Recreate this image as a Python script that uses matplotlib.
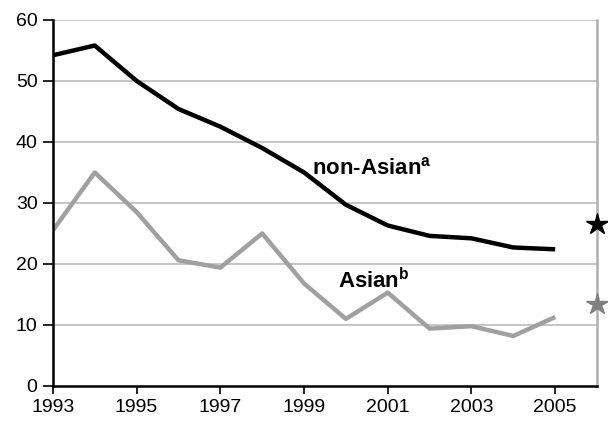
import matplotlib
matplotlib.use('Agg')
import matplotlib.pyplot as plt

plt.rcParams['font.family'] = ['Liberation Sans', 'DejaVu Sans']
plt.rcParams['mathtext.fontset'] = 'custom'
plt.rcParams['mathtext.bf'] = 'Liberation Sans:bold'
plt.rcParams['mathtext.rm'] = 'Liberation Sans'

years = list(range(1993, 2006))
non_asian = [54.2, 55.8, 50.0, 45.4, 42.5, 39.0, 35.0, 29.7, 26.3, 24.6, 24.2, 22.7, 22.4]
asian = [25.5, 35.0, 28.5, 20.6, 19.4, 25.0, 16.8, 11.0, 15.3, 9.4, 9.8, 8.2, 11.3]
star_year = 2006
star_non_asian = 26.5
star_asian = 13.5

fig = plt.figure(figsize=(6.08, 4.23), dpi=100)
ax = fig.add_axes([0.087, 0.0875, 0.895, 0.8655])

for v in range(10, 61, 10):
    ax.axhline(v, color='#c0c0c0', lw=1.3, zorder=0)

ax.plot(years, non_asian, color='black', lw=3.2, solid_capstyle='butt', zorder=3)
ax.plot(years, asian, color='#a0a0a0', lw=3.2, solid_capstyle='butt', zorder=2)

ax.plot([star_year], [star_non_asian], marker='*', color='black', ms=16, clip_on=False, zorder=4)
ax.plot([star_year], [star_asian], marker='*', color='#808080', ms=16, clip_on=False, zorder=4)

ax.text(1999.19, 34.6, r'non-Asian$^{\mathbf{a}}$', fontsize=16, fontweight='bold')
ax.text(1999.82, 16.1, r'Asian$^{\mathbf{b}}$', fontsize=16, fontweight='bold')

ax.set_xlim(1993, 2006)
ax.set_ylim(0, 60)
ax.set_xticks(range(1993, 2006, 2))
ax.set_yticks(range(0, 61, 10))
ax.tick_params(axis='both', labelsize=14, length=6, width=1.2, direction='out')
ax.tick_params(axis='y', length=7, pad=4)

ax.spines['top'].set_visible(False)
ax.spines['left'].set_linewidth(1.8)
ax.spines['bottom'].set_linewidth(1.8)
ax.spines['right'].set_color('#b0b0b0')
ax.spines['right'].set_linewidth(1.8)

fig.savefig('out.png', dpi=100)
